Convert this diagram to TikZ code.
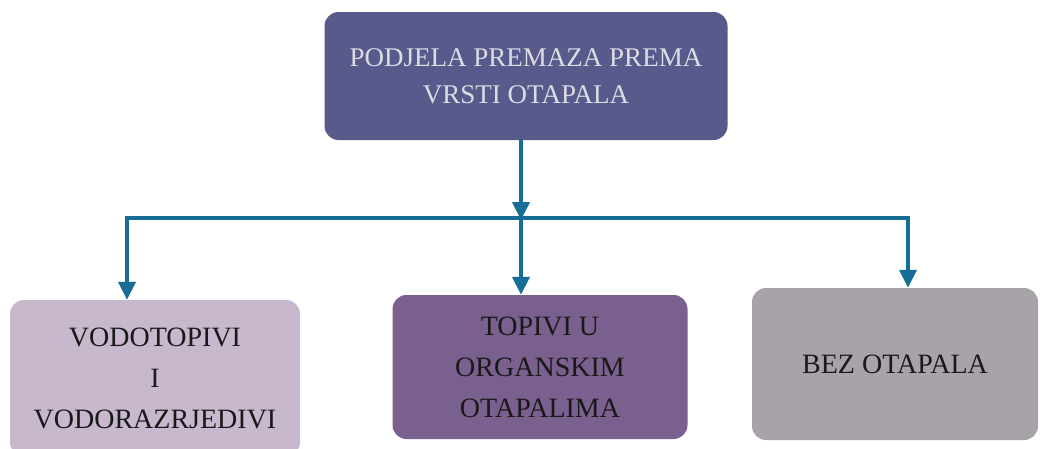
\documentclass[tikz,border=0pt]{standalone}
\usepackage{fontspec}
\setmainfont{Liberation Serif}
\usetikzlibrary{arrows.meta,calc}
\definecolor{topfill}{HTML}{585A8C}
\definecolor{leftfill}{HTML}{C8B8CE}
\definecolor{midfill}{HTML}{7A608E}
\definecolor{rightfill}{HTML}{A8A3A8}
\definecolor{arrowcol}{HTML}{166E96}
\definecolor{toptext}{HTML}{DCDCE4}
\tikzset{
  box/.style={rounded corners=14pt, inner sep=0pt, align=center, font=\fontsize{28}{41}\selectfont},
  conn/.style={draw=arrowcol, line width=4pt},
  arr/.style={conn, -{Triangle[length=18pt,width=17pt]}}
}
\begin{document}
\begin{tikzpicture}[x=1pt,y=-1pt]
\useasboundingbox (0,0) rectangle (1040,448);
\fill[white] (0,0) rectangle (1040,448);
\node[box, fill=topfill, text=toptext, minimum width=403pt, minimum height=128pt,
      font=\fontsize{27}{37}\selectfont] (top) at (526,76) {PODJELA PREMAZA PREMA\\VRSTI OTAPALA};
\node[box, fill=leftfill, text=black!90, minimum width=290pt, minimum height=156pt] (left) at (155,378) {VODOTOPIVI\\I\\VODORAZRJEDIVI};
\node[box, fill=midfill, text=black!90, minimum width=295pt, minimum height=144pt] (mid) at (540,367) {TOPIVI U\\ORGANSKIM\\OTAPALIMA};
\node[box, fill=rightfill, text=black!90, minimum width=286pt, minimum height=152pt] (right) at (895,364) {BEZ OTAPALA};
\coordinate (j) at (521,218);
\coordinate (jl) at (127,218);
\coordinate (jr) at (908,218);
\draw[arr] (top.south -| j) -- ($(j)+(0,2)$);
\draw[arr] (j) -| (jl |- left.north);
\draw[arr] (j) -| (jr |- right.north);
\draw[arr] (j) -- (j |- mid.north);
\end{tikzpicture}
\end{document}
